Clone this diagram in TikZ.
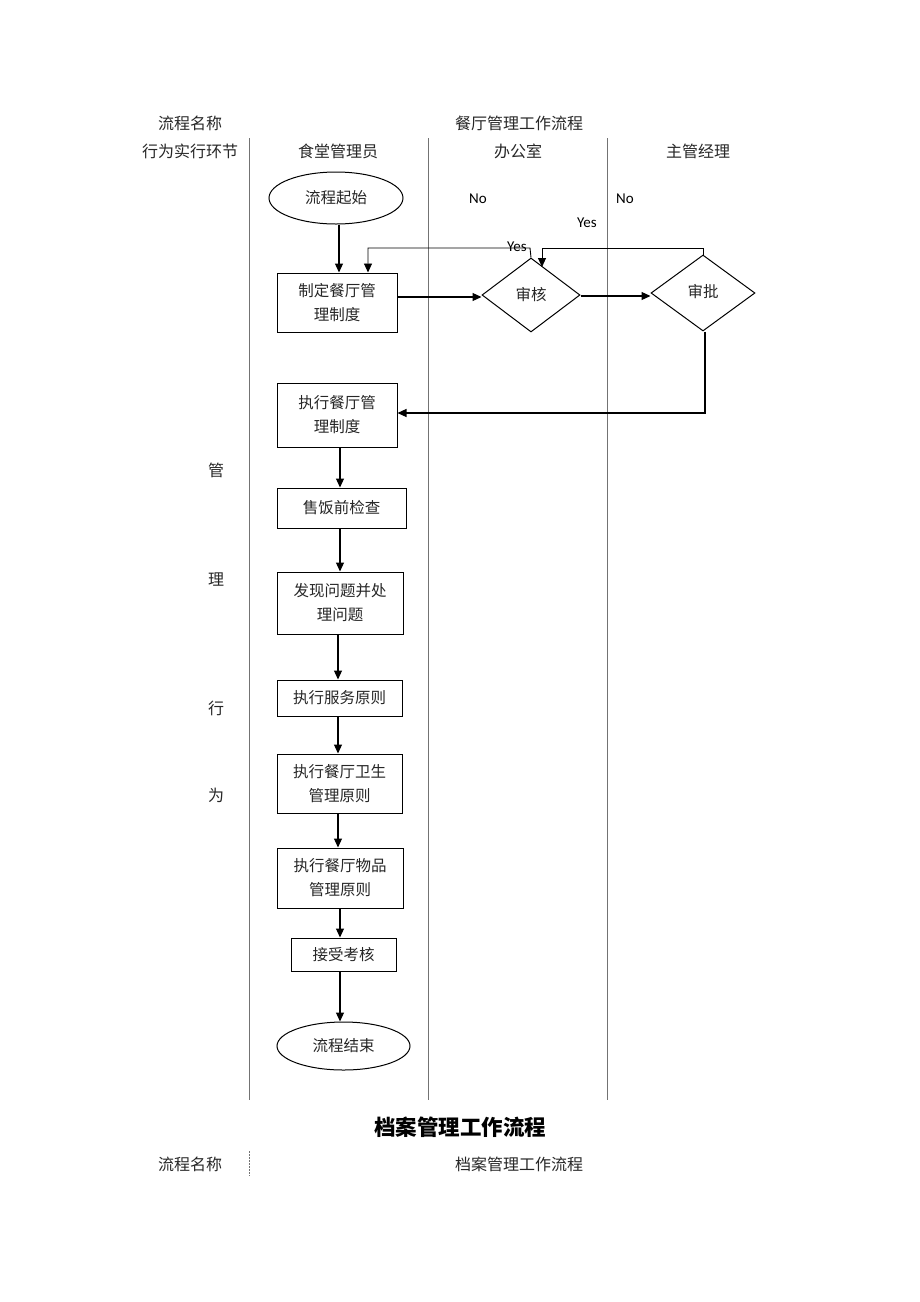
\documentclass[tikz,border=0pt]{standalone}
\usepackage{fontspec}
\setmainfont{Carlito}
\newfontfamily\cjk{Noto Sans CJK SC}
\usetikzlibrary{shapes.geometric,arrows.meta}
\tikzset{
  lane/.style={draw=black!55, line width=1pt},
  txt/.style={font=\cjk\fontsize{16}{21}\selectfont, inner sep=0pt, align=center, text=black!85},
  lbl/.style={font=\fontsize{15}{18}\selectfont, inner sep=0pt},
  boxx/.style={draw, line width=1pt, rectangle, inner sep=0pt, align=center, font=\cjk\fontsize{15.5}{24}\selectfont, text=black!85},
  ell/.style={draw, line width=1pt, ellipse, inner sep=0pt, font=\cjk\fontsize{15.5}{21}\selectfont, text=black!85},
  dia/.style={draw, line width=1pt, diamond, inner sep=0pt, font=\cjk\fontsize{15.5}{21}\selectfont, text=black!85},
  arr/.style={draw, line width=1.2pt, -{Triangle[length=9pt,width=8pt]}},
  thinarr/.style={draw, line width=0.9pt, -{Triangle[length=9pt,width=8pt]}}
}
\begin{document}
\begin{tikzpicture}[x=1pt,y=-1pt]
\useasboundingbox (0,0) rectangle (920,1302);
% lanes
\draw[lane] (249,138) -- (249,1100);
\draw[lane] (428,138) -- (428,1100);
\draw[lane] (607,138) -- (607,1100);
\draw[lane, dash pattern=on 2pt off 1pt] (249,1151) -- (249,1176);
% header texts
\node[txt] (h1) at (190,123) {流程名称};
\node[txt] (h2) at (519,123) {餐厅管理工作流程};
\node[txt] (h3) at (190,151) {行为实行环节};
\node[txt] (h4) at (338,151) {食堂管理员};
\node[txt] (h5) at (518,151) {办公室};
\node[txt] (h6) at (698,151) {主管经理};
\node[txt] (v1) at (216,470) {管};
\node[txt] (v2) at (216,580) {理};
\node[txt] (v3) at (216,708) {行};
\node[txt] (v4) at (216,795) {为};
% nodes
\node[ell, minimum width=134pt, minimum height=52pt] (start) at (336,198) {流程起始};
\node[boxx, minimum width=120pt, minimum height=59pt] (b1) at (337,302.5) {制定餐厅管\\理制度};
\node[dia, minimum width=98pt, minimum height=74pt] (d1) at (531,295) {审核};
\node[dia, minimum width=104pt, minimum height=76pt, text depth=0pt] (d2) at (703,293) {\raisebox{5pt}{审批}};
\node[boxx, minimum width=120pt, minimum height=64pt] (b2) at (337,415) {执行餐厅管\\理制度};
\node[boxx, minimum width=129pt, minimum height=40pt] (b3) at (341.5,508) {售饭前检查};
\node[boxx, minimum width=126pt, minimum height=62pt] (b4) at (340,603) {发现问题并处\\理问题};
\node[boxx, minimum width=125pt, minimum height=36pt] (b5) at (339.5,698) {执行服务原则};
\node[boxx, minimum width=125pt, minimum height=59pt] (b6) at (339.5,783.5) {执行餐厅卫生\\管理原则};
\node[boxx, minimum width=126pt, minimum height=60pt] (b7) at (340,878) {执行餐厅物品\\管理原则};
\node[boxx, minimum width=105pt, minimum height=33pt] (b8) at (343.5,954.5) {接受考核};
\node[ell, minimum width=133pt, minimum height=48pt] (end) at (343.5,1046) {流程结束};
% labels
\node[lbl] (no1) at (478,199) {No};
\node[lbl] (no2) at (625,199) {No};
\node[lbl] (yes1) at (587,223) {Yes};
\node[lbl] (yes2) at (517,247) {Yes};
% connectors
\draw[arr] (start.south -| 339,0) -- (b1.north -| 339,0);
\coordinate (c1) at (530,248);
\coordinate (c2) at (368,248);
\draw[thinarr] (d1.north) -- (c1) -- (c2) -- (b1.north -| c2);
\coordinate (c3) at (703,248);
\coordinate (c4) at (542,248);
\draw[thinarr] (d2.north) -- (c3) -- (c4) -- (542,267);
\draw[arr] (b1.east |- 0,297) -- (d1.west |- 0,297);
\draw[arr] (d1.east |- 0,296) -- (d2.west |- 0,296);
\coordinate (c5) at (705,413);
\draw[arr] (d2.south -| c5) -- (c5) -- (b2.east |- c5);
\draw[arr] (b2.south -| 340,0) -- (b3.north -| 340,0);
\draw[arr] (b3.south -| 340,0) -- (b4.north -| 340,0);
\draw[arr] (b4.south -| 338,0) -- (b5.north -| 338,0);
\draw[arr] (b5.south -| 338,0) -- (b6.north -| 338,0);
\draw[arr] (b6.south -| 338,0) -- (b7.north -| 338,0);
\draw[arr] (b7.south -| 340,0) -- (b8.north -| 340,0);
\draw[arr] (b8.south -| 340,0) -- (end.north -| 340,0);
% bottom section
\node[font=\cjk\bfseries\fontsize{21.5}{25}\selectfont, inner sep=0pt] (t2) at (460,1127) {档案管理工作流程};
\node[txt] (f1) at (190,1164) {流程名称};
\node[txt] (f2) at (519,1164) {档案管理工作流程};
\end{tikzpicture}
\end{document}
